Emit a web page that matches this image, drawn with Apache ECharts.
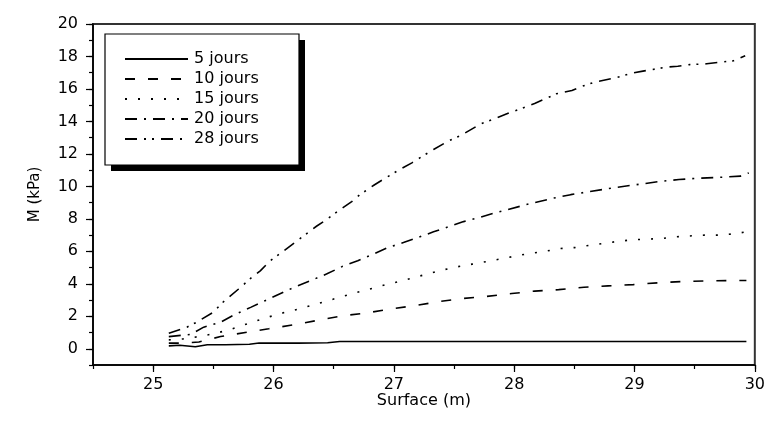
<!DOCTYPE html>
<html>
<head>
<meta charset="utf-8">
<script src="https://cdn.jsdelivr.net/npm/echarts@6/dist/echarts.min.js"></script>
<style>html,body{margin:0;padding:0;background:#fff}#c{width:768px;height:422px}</style>
</head>
<body>
<div id="c"></div>
<script>
const seriesNames = ['5 jours', '10 jours', '15 jours', '20 jours', '28 jours'];

const x5 = [25.13, 25.22, 25.35, 25.45, 25.6, 25.8, 25.88, 26.2, 26.45, 26.55, 27.0, 28.0, 29.0, 29.93];
const y5 = [0.18, 0.22, 0.12, 0.25, 0.25, 0.28, 0.35, 0.35, 0.37, 0.45, 0.45, 0.45, 0.45, 0.45];

const x10 = [25.13, 25.25, 25.38, 25.56, 25.78, 25.96, 26.18, 26.38, 26.58, 26.77, 26.97, 27.18, 27.37, 27.58, 27.77, 27.98, 28.17, 28.37, 28.58, 28.78, 28.99, 29.19, 29.4, 29.6, 29.81, 29.93];
const y10 = [0.35, 0.35, 0.42, 0.75, 1.02, 1.23, 1.49, 1.77, 2.04, 2.2, 2.45, 2.66, 2.9, 3.1, 3.22, 3.4, 3.55, 3.64, 3.79, 3.87, 3.95, 4.06, 4.14, 4.18, 4.2, 4.2];

const x15 = [25.13, 25.25, 25.38, 25.5, 25.63, 25.85, 25.97, 26.1, 26.22, 26.35, 26.69, 26.82, 26.93, 27.06, 27.18, 27.41, 27.53, 27.65, 27.77, 27.9, 28.12, 28.25, 28.38, 28.5, 28.62, 28.85, 28.98, 29.1, 29.23, 29.35, 29.58, 29.71, 29.83, 29.93];
const y15 = [0.55, 0.61, 0.75, 0.92, 1.16, 1.7, 1.98, 2.25, 2.47, 2.74, 3.47, 3.72, 3.94, 4.17, 4.41, 4.86, 5.05, 5.21, 5.37, 5.55, 5.86, 5.99, 6.17, 6.23, 6.36, 6.6, 6.71, 6.75, 6.79, 6.9, 7.0, 7.0, 7.08, 7.2];

const x20 = [25.13, 25.31, 25.42, 25.56, 25.67, 25.81, 25.93, 26.05, 26.17, 26.32, 26.44, 26.57, 26.7, 26.83, 26.95, 27.08, 27.2, 27.33, 27.45, 27.58, 27.72, 27.83, 27.95, 28.09, 28.21, 28.33, 28.47, 28.6, 28.73, 28.85, 28.98, 29.23, 29.37, 29.5, 29.74, 29.88, 29.95];
const y20 = [0.75, 0.88, 1.33, 1.63, 2.08, 2.55, 2.96, 3.37, 3.78, 4.23, 4.6, 5.06, 5.42, 5.83, 6.23, 6.54, 6.85, 7.2, 7.5, 7.83, 8.1, 8.35, 8.57, 8.86, 9.07, 9.28, 9.49, 9.65, 9.8, 9.94, 10.07, 10.32, 10.42, 10.49, 10.57, 10.63, 10.83];

const x28 = [25.13, 25.28, 25.36, 25.5, 25.57, 25.71, 25.82, 25.89, 25.97, 26.08, 26.25, 26.36, 26.43, 26.53, 26.65, 26.72, 26.84, 26.95, 27.04, 27.15, 27.26, 27.33, 27.45, 27.56, 27.72, 27.85, 27.95, 28.06, 28.17, 28.35, 28.48, 28.56, 28.66, 28.85, 28.98, 29.07, 29.27, 29.36, 29.46, 29.6, 29.77, 29.82, 29.92];
const y28 = [0.95, 1.33, 1.63, 2.25, 2.8, 3.68, 4.4, 4.8, 5.4, 6.0, 6.95, 7.56, 7.9, 8.45, 9.06, 9.5, 10.1, 10.6, 11.0, 11.45, 11.96, 12.27, 12.78, 13.15, 13.84, 14.2, 14.5, 14.8, 15.1, 15.7, 15.9, 16.15, 16.4, 16.7, 16.97, 17.1, 17.35, 17.4, 17.5, 17.55, 17.7, 17.73, 18.05];

const xTickLabels = [25, 26, 27, 28, 29, 30];
const yTickLabels = [0, 2, 4, 6, 8, 10, 12, 14, 16, 18, 20];

const xs = [x5, x10, x15, x20, x28];
const ys = [y5, y10, y15, y20, y28];
const dashes = ['solid', [10, 13], [2, 11], [12, 7, 2, 7], [12, 7, 2, 6, 2, 7]];

const FONT = 'DejaVu Sans';

const series = seriesNames.map((name, i) => ({
  name: name,
  type: 'line',
  xAxisIndex: 0,
  yAxisIndex: 0,
  showSymbol: false,
  symbol: 'none',
  smooth: false,
  data: xs[i].map((x, j) => [x, ys[i][j]]),
  lineStyle: { color: '#000', width: 1.6, type: dashes[i] },
  itemStyle: { color: '#000' },
  z: 3
}));

const chart = echarts.init(document.getElementById('c'), null, { renderer: 'canvas' });
chart.setOption({
  animation: false,
  backgroundColor: '#fff',
  grid: { left: 93, right: 12, top: 24, bottom: 57, show: true, borderColor: '#333', borderWidth: 2, backgroundColor: 'transparent' },
  xAxis: [
    {
      type: 'value', min: 24.5, max: 30, interval: 0.5, position: 'bottom',
      axisLine: { show: true, onZero: false, lineStyle: { color: '#000', width: 1.5 } },
      axisTick: { show: true, inside: false, length: 4, lineStyle: { color: '#000', width: 1.2 } },
      axisLabel: { show: false },
      splitLine: { show: false },
      name: 'Surface (m)', nameLocation: 'middle', nameGap: 28,
      nameTextStyle: { fontFamily: FONT, fontSize: 16, color: '#000' }
    },
    {
      type: 'value', min: 24.5, max: 30, position: 'bottom',
      axisLine: { show: false, onZero: false },
      axisTick: { show: true, length: 7, customValues: xTickLabels, lineStyle: { color: '#000', width: 1.2 } },
      axisLabel: { show: true, customValues: xTickLabels, margin: 12, fontFamily: FONT, fontSize: 16, color: '#000' },
      splitLine: { show: false }
    }
  ],
  yAxis: [
    {
      type: 'value', min: -1, max: 20, interval: 1, position: 'left',
      axisLine: { show: true, onZero: false, lineStyle: { color: '#000', width: 1.5 } },
      axisTick: { show: true, inside: false, length: 4, lineStyle: { color: '#000', width: 1.2 } },
      axisLabel: { show: false },
      splitLine: { show: false },
      name: 'M (kPa)', nameLocation: 'middle', nameGap: 50,
      nameTextStyle: { fontFamily: FONT, fontSize: 15, color: '#000' }
    },
    {
      type: 'value', min: -1, max: 20, position: 'left',
      axisLine: { show: false, onZero: false },
      axisTick: { show: true, length: 7, customValues: yTickLabels, lineStyle: { color: '#000', width: 1.2 } },
      axisLabel: { show: true, customValues: yTickLabels, margin: 15, fontFamily: FONT, fontSize: 16, color: '#000' },
      splitLine: { show: false }
    }
  ],
  legend: {
    orient: 'vertical',
    left: 124, top: 51,
    itemWidth: 63, itemHeight: 14, itemGap: 4,
    padding: 0,
    itemStyle: { opacity: 0 },
    textStyle: { fontFamily: FONT, fontSize: 16, color: '#000', padding: [0, 0, 0, 1] },
    data: seriesNames,
    z: 10
  },
  graphic: [
    { type: 'rect', z: 5, shape: { x: 111, y: 40, width: 194, height: 131 }, style: { fill: '#000' } },
    { type: 'rect', z: 6, shape: { x: 105, y: 34, width: 194, height: 131 }, style: { fill: '#fff', stroke: '#000', lineWidth: 1.2 } }
  ],
  series: series
});
</script>
</body>
</html>
